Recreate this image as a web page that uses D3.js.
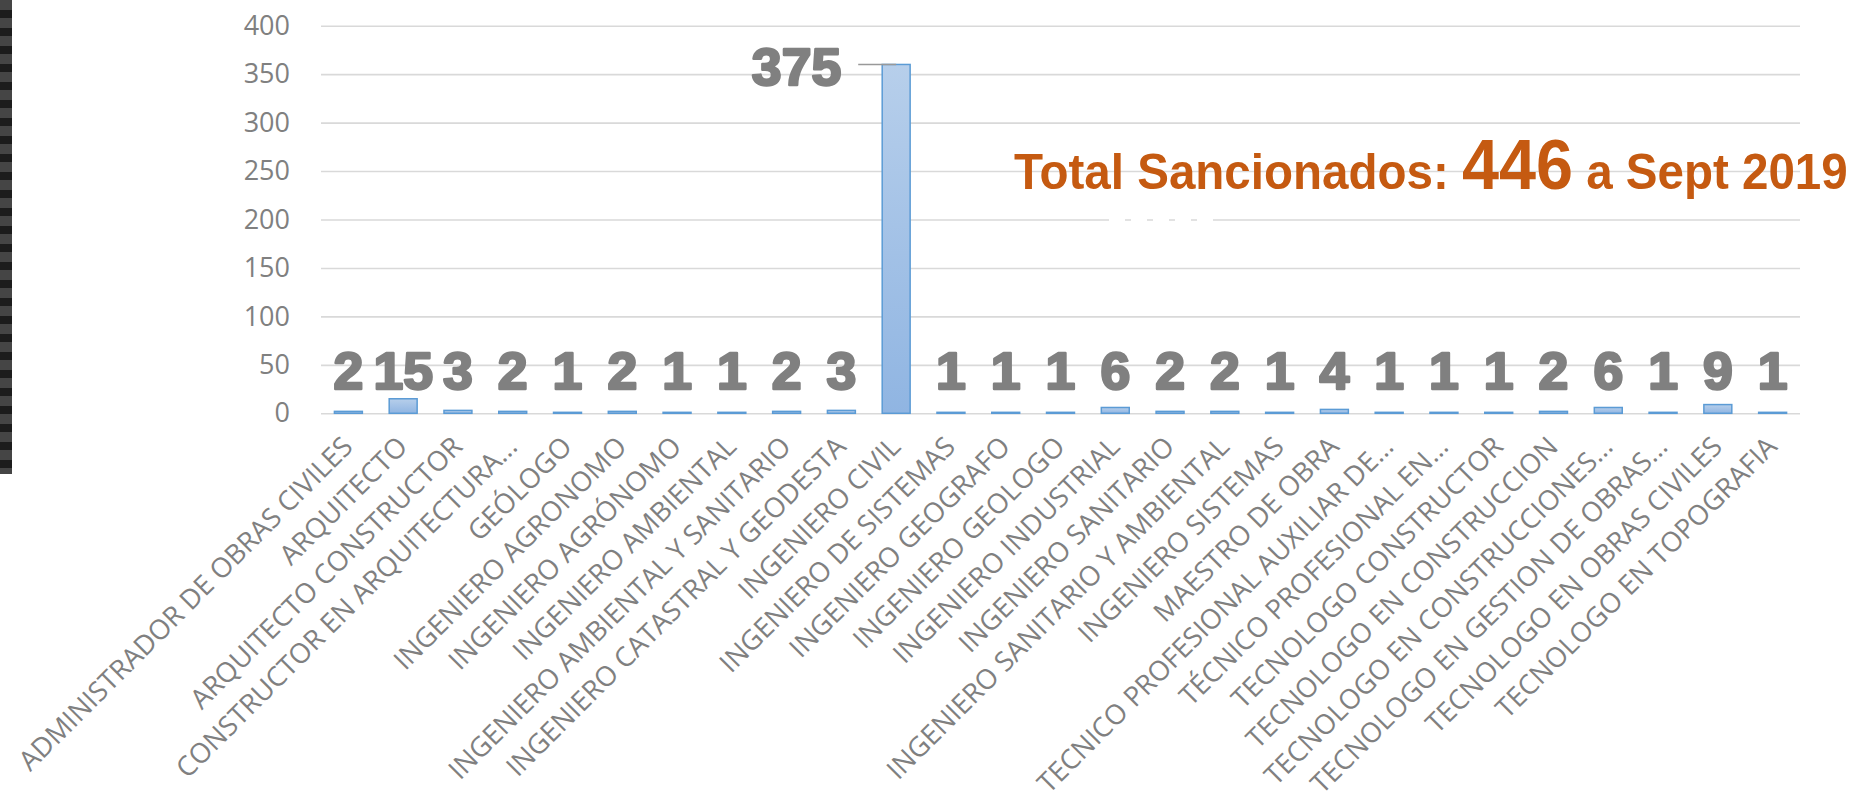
<!DOCTYPE html>
<html>
<head>
<meta charset="utf-8">
<script src="https://cdn.jsdelivr.net/npm/d3@7"></script>
<style>
  html, body { margin: 0; padding: 0; background: #fff; }
  svg { display: block; font-family: "Open Sans", "Liberation Sans", sans-serif; }
</style>
</head>
<body>
<script>
// chart data
const categories = [
  "ADMINISTRADOR DE OBRAS CIVILES", "ARQUITECTO", "ARQUITECTO CONSTRUCTOR",
  "CONSTRUCTOR EN ARQUITECTURA...", "GEÓLOGO", "INGENIERO AGRONOMO",
  "INGENIERO AGRÓNOMO", "INGENIERO AMBIENTAL", "INGENIERO AMBIENTAL Y SANITARIO",
  "INGENIERO CATASTRAL Y GEODESTA", "INGENIERO CIVIL", "INGENIERO DE SISTEMAS",
  "INGENIERO GEOGRAFO", "INGENIERO GEOLOGO", "INGENIERO INDUSTRIAL",
  "INGENIERO SANITARIO", "INGENIERO SANITARIO Y AMBIENTAL", "INGENIERO SISTEMAS",
  "MAESTRO DE OBRA", "TECNICO PROFESIONAL AUXILIAR DE...", "TÉCNICO PROFESIONAL EN...",
  "TECNOLOGO CONSTRUCTOR", "TECNOLOGO EN CONSTRUCCION", "TECNOLOGO EN CONSTRUCCIONES...",
  "TECNOLOGO EN GESTION DE OBRAS...", "TECNOLOGO EN OBRAS CIVILES", "TECNOLOGO EN TOPOGRAFIA"
];
// bar heights as drawn
const values = [2, 15, 3, 2, 1, 2, 1, 1, 2, 3, 360, 1, 1, 1, 6, 2, 2, 1, 4, 1, 1, 1, 2, 6, 1, 9, 1];
// data label texts as printed
const labels = ["2", "15", "3", "2", "1", "2", "1", "1", "2", "3", "375", "1", "1", "1", "6",
  "2", "2", "1", "4", "1", "1", "1", "2", "6", "1", "9", "1"];
const yTicks = [0, 50, 100, 150, 200, 250, 300, 350, 400];
const titleParts = ["Total Sancionados: ", "446", " a Sept 2019"];

const W = 1855, H = 793;
const plot = { left: 321, right: 1800, top: 25.7, bottom: 413.3 };
const grey = "#808080";
const orange = "#c55a11";

const svg = d3.select("body").append("svg")
  .attr("width", W)
  .attr("height", H);

// gradient for bars
const grad = svg.append("defs").append("linearGradient")
  .attr("id", "barGrad")
  .attr("x1", 0).attr("y1", 0).attr("x2", 0).attr("y2", 1);
grad.append("stop").attr("offset", "0%").attr("stop-color", "#b7cfeb");
grad.append("stop").attr("offset", "100%").attr("stop-color", "#90b5e2");

// dark strip at the left edge
svg.append("g").selectAll("rect")
  .data(d3.range(0, 474, 18))
  .enter().append("rect")
  .attr("x", 0)
  .attr("y", d => d)
  .attr("width", 12)
  .attr("height", d => Math.min(18, 474 - d))
  .attr("fill", "#454545");
svg.append("g").selectAll("rect")
  .data(d3.range(10, 474, 18))
  .enter().append("rect")
  .attr("x", 0)
  .attr("y", d => d)
  .attr("width", 12)
  .attr("height", d => Math.min(8, 474 - d))
  .attr("fill", "#1c1c1c");

// scales
let x = d3.scaleBand()
  .domain(categories)
  .range([plot.left, plot.right])
  .paddingInner(0.49)
  .paddingOuter(0.245);

let y = d3.scaleLinear()
  .domain([0, 400])
  .range([plot.bottom, plot.top]);

// y axis + gridlines
let yAxis = svg.append("g")
  .attr("transform", `translate(${plot.left},0)`)
  .call(d3.axisLeft(y).tickValues(yTicks).tickSize(-(plot.right - plot.left)).tickPadding(31));
yAxis.select(".domain").remove();
yAxis.selectAll(".tick line").attr("stroke", "#d9d9d9").attr("stroke-width", 1.6);
yAxis.selectAll(".tick text")
  .attr("fill", grey)
  .style("font-size", "27px")
  .style("font-family", "'Open Sans', sans-serif");

// little white dashes across the 200 gridline
svg.append("line")
  .attr("x1", 1109).attr("x2", 1213)
  .attr("y1", y(200)).attr("y2", y(200))
  .attr("stroke", "#fff")
  .attr("stroke-width", 3)
  .attr("stroke-dasharray", "16 6");

// bars
svg.append("g").selectAll("rect")
  .data(values)
  .enter().append("rect")
  .attr("x", (d, i) => x(categories[i]))
  .attr("y", d => y(d))
  .attr("width", x.bandwidth())
  .attr("height", d => y(0) - y(d))
  .attr("fill", "url(#barGrad)")
  .attr("stroke", "#5b9bd5")
  .attr("stroke-width", 1.5);

// x axis labels (rotated)
let xAxis = svg.append("g")
  .attr("transform", `translate(0,${plot.bottom})`)
  .call(d3.axisBottom(x).tickSize(0).tickPadding(0));
xAxis.select(".domain").remove();
xAxis.selectAll(".tick text")
  .attr("fill", grey)
  .attr("y", 0)
  .attr("dy", 0)
  .style("font-size", "27.4px")
  .style("font-family", "'Open Sans', sans-serif")
  .style("text-anchor", "end")
  .attr("transform", "translate(6,35) rotate(-45)");

// data labels
const big = labels.map((t, i) => ({ t, i, special: values[i] > 100 }));
svg.append("g").selectAll("text")
  .data(big)
  .enter().append("text")
  .attr("transform", d => {
    let lx = d.special ? x(categories[d.i]) - 41 : x(categories[d.i]) + x.bandwidth() / 2;
    let ly = d.special ? y(values[d.i]) + 21 : y(25);
    return `translate(${lx},${ly}) scale(1.05,1)`;
  })
  .attr("text-anchor", d => d.special ? "end" : "middle")
  .attr("fill", grey)
  .attr("stroke", grey)
  .attr("stroke-width", 2.5)
  .attr("stroke-linejoin", "round")
  .style("font-family", "'Liberation Sans', Arial, sans-serif")
  .style("font-weight", "bold")
  .style("font-size", "51px")
  .text(d => d.t);

// leader line for the big label
big.filter(d => d.special).forEach(d => {
  svg.append("line")
    .attr("x1", x(categories[d.i]) - 24)
    .attr("x2", x(categories[d.i]) + x.bandwidth() / 2)
    .attr("y1", y(values[d.i]))
    .attr("y2", y(values[d.i]))
    .attr("stroke", "#999")
    .attr("stroke-width", 1.5);
});

// title
let title = svg.append("text")
  .attr("fill", orange)
  .style("font-family", "'Liberation Sans Narrow', 'Liberation Sans', Arial, sans-serif")
  .style("font-weight", "bold")
  .style("font-size", "50px");
title.selectAll("tspan")
  .data(titleParts)
  .enter().append("tspan")
  .style("font-size", (d, i) => i === 1 ? "70px" : "50px")
  .attr("xml:space", "preserve")
  .text(d => d);
title.style("white-space", "pre");
const tw = title.node().getComputedTextLength();
const sx = (1848 - 1014) / tw;
title.attr("transform", `translate(1014,189) scale(${sx},1)`);
</script>
</body>
</html>
